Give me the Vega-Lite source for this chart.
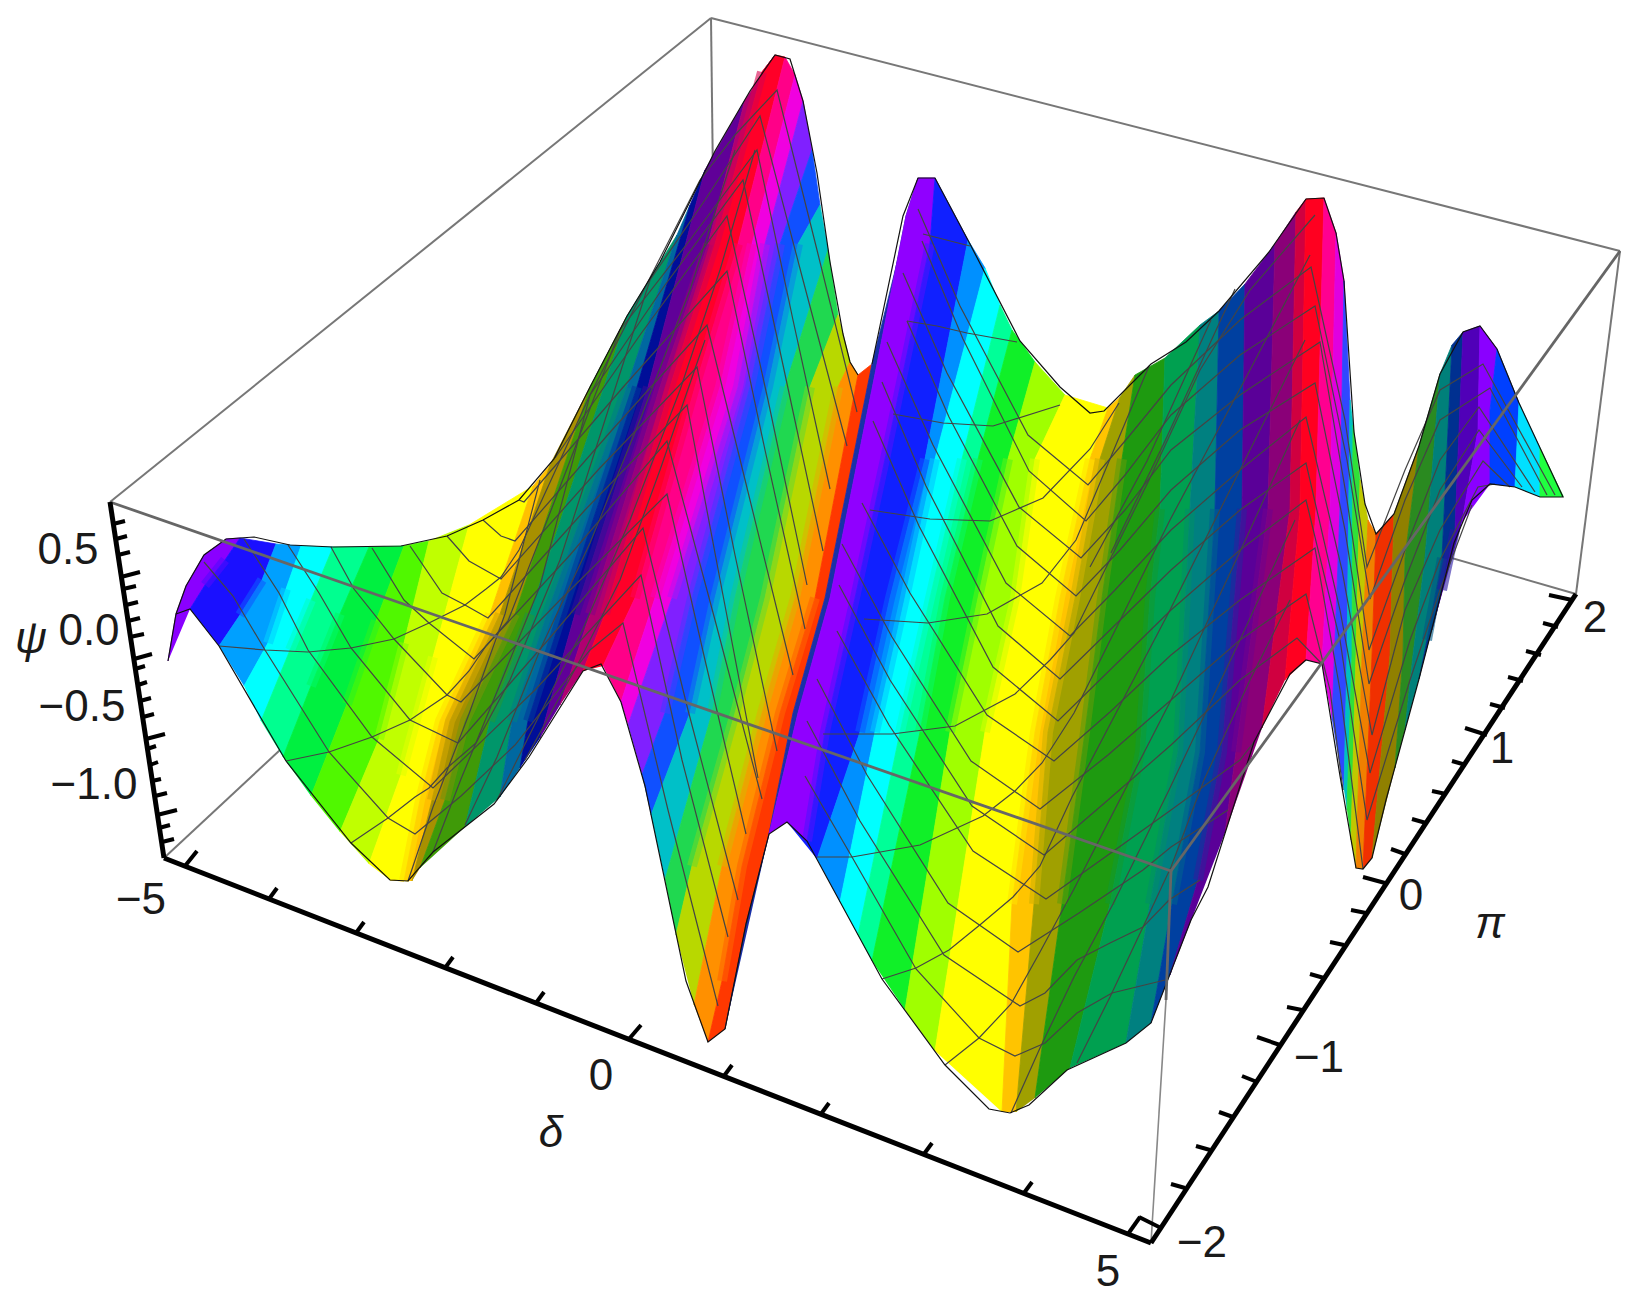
{"$schema":"https://vega.github.io/schema/vega-lite/v6.json","width":1639,"height":1302,"padding":0,"autosize":{"type":"none"},"background":"white","config":{"view":{"stroke":null},"axis":{"domain":false}},
"datasets":{
"bands":[
{"l":0,"x":168,"y":661},{"l":0,"x":176,"y":614},{"l":0,"x":186,"y":586},{"l":0,"x":204,"y":555},{"l":0,"x":226,"y":539},
{"l":1,"x":190,"y":609},{"l":1,"x":205,"y":585},{"l":1,"x":225,"y":560},{"l":1,"x":240,"y":538},
{"l":2,"x":219,"y":646},{"l":2,"x":240,"y":615},{"l":2,"x":262,"y":580},{"l":2,"x":276,"y":544},
{"l":3,"x":244,"y":686},{"l":3,"x":268,"y":643},{"l":3,"x":286,"y":589},{"l":3,"x":301,"y":546},
{"l":4,"x":261,"y":721},{"l":4,"x":290,"y":650},{"l":4,"x":311,"y":600},{"l":4,"x":333,"y":547},
{"l":5,"x":283,"y":757},{"l":5,"x":311,"y":686},{"l":5,"x":340,"y":614},{"l":5,"x":369,"y":547},
{"l":6,"x":311,"y":796},{"l":6,"x":347,"y":704},{"l":6,"x":376,"y":621},{"l":6,"x":404,"y":546},
{"l":7,"x":340,"y":832},{"l":7,"x":379,"y":739},{"l":7,"x":404,"y":643},{"l":7,"x":429,"y":541},
{"l":8,"x":369,"y":864},{"l":8,"x":401,"y":775},{"l":8,"x":433,"y":657},{"l":8,"x":469,"y":525},
{"l":9,"x":390,"y":880},{"l":9,"x":404,"y":881},{"l":9,"x":420,"y":800},{"l":9,"x":440,"y":721},{"l":9,"x":490,"y":614},{"l":9,"x":533,"y":486},
{"l":10,"x":412,"y":881},{"l":10,"x":432,"y":800},{"l":10,"x":450,"y":721},{"l":10,"x":500,"y":614},{"l":10,"x":550,"y":465},
{"l":11,"x":420,"y":868},{"l":11,"x":445,"y":800},{"l":11,"x":465,"y":721},{"l":11,"x":515,"y":614},{"l":11,"x":590,"y":387},
{"l":12,"x":465,"y":827},{"l":12,"x":490,"y":721},{"l":12,"x":530,"y":614},{"l":12,"x":627,"y":316},
{"l":13,"x":500,"y":797},{"l":13,"x":512,"y":721},{"l":13,"x":547,"y":614},{"l":13,"x":627,"y":387},{"l":13,"x":677,"y":235},
{"l":14,"x":520,"y":768},{"l":14,"x":528,"y":721},{"l":14,"x":562,"y":614},{"l":14,"x":637,"y":387},{"l":14,"x":690,"y":205},
{"l":15,"x":540,"y":738},{"l":15,"x":575,"y":614},{"l":15,"x":648,"y":387},{"l":15,"x":705,"y":170},
{"l":16,"x":560,"y":705},{"l":16,"x":590,"y":614},{"l":16,"x":660,"y":387},{"l":16,"x":708,"y":244},{"l":16,"x":745,"y":100},
{"l":17,"x":583,"y":671},{"l":17,"x":605,"y":614},{"l":17,"x":670,"y":387},{"l":17,"x":715,"y":244},{"l":17,"x":762,"y":72},{"l":17,"x":775,"y":55},
{"l":18,"x":603,"y":666},{"l":18,"x":635,"y":598},{"l":18,"x":695,"y":387},{"l":18,"x":738,"y":244},{"l":18,"x":785,"y":57},
{"l":19,"x":621,"y":702},{"l":19,"x":655,"y":598},{"l":19,"x":720,"y":387},{"l":19,"x":752,"y":244},{"l":19,"x":795,"y":75},
{"l":20,"x":628,"y":725},{"l":20,"x":672,"y":598},{"l":20,"x":738,"y":387},{"l":20,"x":765,"y":244},{"l":20,"x":803,"y":101},
{"l":21,"x":642,"y":775},{"l":21,"x":665,"y":713},{"l":21,"x":692,"y":598},{"l":21,"x":750,"y":387},{"l":21,"x":780,"y":244},{"l":21,"x":812,"y":150},
{"l":22,"x":651,"y":815},{"l":22,"x":690,"y":713},{"l":22,"x":715,"y":598},{"l":22,"x":768,"y":387},{"l":22,"x":798,"y":244},{"l":22,"x":820,"y":205},
{"l":23,"x":665,"y":880},{"l":23,"x":712,"y":713},{"l":23,"x":735,"y":598},{"l":23,"x":785,"y":387},{"l":23,"x":828,"y":250},
{"l":24,"x":676,"y":935},{"l":24,"x":692,"y":866},{"l":24,"x":735,"y":713},{"l":24,"x":765,"y":598},{"l":24,"x":810,"y":387},{"l":24,"x":838,"y":315},
{"l":25,"x":694,"y":1005},{"l":25,"x":722,"y":866},{"l":25,"x":762,"y":713},{"l":25,"x":795,"y":598},{"l":25,"x":838,"y":387},{"l":25,"x":850,"y":362},
{"l":26,"x":708,"y":1042},{"l":26,"x":722,"y":981},{"l":26,"x":742,"y":866},{"l":26,"x":780,"y":713},{"l":26,"x":815,"y":598},{"l":26,"x":858,"y":375},
{"l":27,"x":725,"y":1029},{"l":27,"x":746,"y":924},{"l":27,"x":769,"y":834},{"l":27,"x":793,"y":713},{"l":27,"x":825,"y":598},{"l":27,"x":872,"y":364},
{"l":28,"x":769,"y":834},{"l":28,"x":798,"y":713},{"l":28,"x":830,"y":598},{"l":28,"x":877,"y":364},{"l":28,"x":906,"y":216},{"l":28,"x":918,"y":178},
{"l":29,"x":787,"y":822},{"l":29,"x":807,"y":841},{"l":29,"x":825,"y":732},{"l":29,"x":855,"y":598},{"l":29,"x":885,"y":459},{"l":29,"x":930,"y":244},{"l":29,"x":935,"y":178},
{"l":30,"x":817,"y":859},{"l":30,"x":860,"y":732},{"l":30,"x":890,"y":598},{"l":30,"x":925,"y":459},{"l":30,"x":968,"y":240},
{"l":31,"x":840,"y":902},{"l":31,"x":875,"y":732},{"l":31,"x":905,"y":598},{"l":31,"x":935,"y":459},{"l":31,"x":985,"y":268},
{"l":32,"x":858,"y":935},{"l":32,"x":900,"y":732},{"l":32,"x":930,"y":598},{"l":32,"x":962,"y":459},{"l":32,"x":1000,"y":305},
{"l":33,"x":872,"y":961},{"l":33,"x":920,"y":732},{"l":33,"x":945,"y":598},{"l":33,"x":978,"y":459},{"l":33,"x":1012,"y":330},
{"l":34,"x":905,"y":1010},{"l":34,"x":950,"y":732},{"l":34,"x":978,"y":598},{"l":34,"x":1008,"y":459},{"l":34,"x":1035,"y":362},
{"l":35,"x":935,"y":1051},{"l":35,"x":985,"y":732},{"l":35,"x":1015,"y":598},{"l":35,"x":1035,"y":459},{"l":35,"x":1065,"y":395},
{"l":36,"x":1002,"y":1112},{"l":36,"x":1012,"y":904},{"l":36,"x":1035,"y":732},{"l":36,"x":1060,"y":598},{"l":36,"x":1090,"y":459},{"l":36,"x":1108,"y":408},
{"l":37,"x":1016,"y":1112},{"l":37,"x":1034,"y":904},{"l":37,"x":1048,"y":732},{"l":37,"x":1075,"y":598},{"l":37,"x":1100,"y":459},{"l":37,"x":1120,"y":397},
{"l":38,"x":1035,"y":1098},{"l":38,"x":1062,"y":904},{"l":38,"x":1085,"y":732},{"l":38,"x":1102,"y":598},{"l":38,"x":1122,"y":459},{"l":38,"x":1135,"y":375},
{"l":39,"x":1070,"y":1068},{"l":39,"x":1110,"y":904},{"l":39,"x":1140,"y":752},{"l":39,"x":1150,"y":598},{"l":39,"x":1160,"y":509},{"l":39,"x":1165,"y":358},
{"l":40,"x":1126,"y":1043},{"l":40,"x":1150,"y":904},{"l":40,"x":1178,"y":752},{"l":40,"x":1190,"y":509},{"l":40,"x":1200,"y":325},
{"l":41,"x":1151,"y":1023},{"l":41,"x":1172,"y":904},{"l":41,"x":1200,"y":752},{"l":41,"x":1215,"y":509},{"l":41,"x":1219,"y":311},
{"l":42,"x":1170,"y":975},{"l":42,"x":1198,"y":880},{"l":42,"x":1222,"y":752},{"l":42,"x":1242,"y":509},{"l":42,"x":1245,"y":284},
{"l":43,"x":1225,"y":833},{"l":43,"x":1236,"y":752},{"l":43,"x":1268,"y":509},{"l":43,"x":1275,"y":244},
{"l":44,"x":1262,"y":728},{"l":44,"x":1290,"y":509},{"l":44,"x":1296,"y":212},
{"l":45,"x":1285,"y":680},{"l":45,"x":1300,"y":509},{"l":45,"x":1306,"y":199},
{"l":46,"x":1306,"y":660},{"l":46,"x":1316,"y":509},{"l":46,"x":1324,"y":198},
{"l":47,"x":1322,"y":664},{"l":47,"x":1330,"y":509},{"l":47,"x":1336,"y":233},
{"l":48,"x":1332,"y":720},{"l":48,"x":1340,"y":509},{"l":48,"x":1344,"y":281},
{"l":49,"x":1344,"y":790},{"l":49,"x":1347,"y":655},{"l":49,"x":1350,"y":400},
{"l":50,"x":1347,"y":810},{"l":50,"x":1352,"y":655},{"l":50,"x":1353,"y":425},
{"l":51,"x":1351,"y":840},{"l":51,"x":1356,"y":655},{"l":51,"x":1360,"y":480},
{"l":52,"x":1356,"y":868},{"l":52,"x":1362,"y":655},{"l":52,"x":1368,"y":520},
{"l":53,"x":1363,"y":869},{"l":53,"x":1372,"y":655},{"l":53,"x":1376,"y":534},
{"l":54,"x":1372,"y":858},{"l":54,"x":1390,"y":655},{"l":54,"x":1394,"y":514},
{"l":55,"x":1395,"y":768},{"l":55,"x":1403,"y":655},{"l":55,"x":1405,"y":558},{"l":55,"x":1419,"y":446},
{"l":56,"x":1405,"y":730},{"l":56,"x":1413,"y":655},{"l":56,"x":1425,"y":558},{"l":56,"x":1440,"y":374},
{"l":57,"x":1419,"y":679},{"l":57,"x":1427,"y":640},{"l":57,"x":1442,"y":558},{"l":57,"x":1452,"y":345},
{"l":58,"x":1432,"y":630},{"l":58,"x":1442,"y":590},{"l":58,"x":1455,"y":530},{"l":58,"x":1463,"y":332},
{"l":59,"x":1462,"y":522},{"l":59,"x":1478,"y":430},{"l":59,"x":1480,"y":326},
{"l":60,"x":1490,"y":484},{"l":60,"x":1490,"y":410},{"l":60,"x":1497,"y":349},
{"l":61,"x":1515,"y":487},{"l":61,"x":1519,"y":403},
{"l":62,"x":1540,"y":497},{"l":62,"x":1540,"y":448},
{"l":63,"x":1563,"y":497},{"l":63,"x":1563,"y":496}],
"mesh":[
{"m":1,"x":204,"y":562},{"m":1,"x":233,"y":596},{"m":1,"x":265,"y":650},{"m":1,"x":329,"y":752},{"m":1,"x":388,"y":818},{"m":1,"x":415,"y":834},{"m":1,"x":461,"y":796},{"m":1,"x":515,"y":745},{"m":1,"x":590,"y":650},{"m":1,"x":623,"y":623},{"m":1,"x":668,"y":810},{"m":1,"x":718,"y":1006},
{"m":2,"x":244,"y":539},{"m":2,"x":279,"y":593},{"m":2,"x":308,"y":650},{"m":2,"x":372,"y":737},{"m":2,"x":433,"y":788},{"m":2,"x":535,"y":690},{"m":2,"x":641,"y":575},{"m":2,"x":682,"y":760},{"m":2,"x":728,"y":937},
{"m":3,"x":288,"y":545},{"m":3,"x":319,"y":593},{"m":3,"x":351,"y":648},{"m":3,"x":410,"y":720},{"m":3,"x":458,"y":743},{"m":3,"x":548,"y":640},{"m":3,"x":643,"y":528},{"m":3,"x":688,"y":710},{"m":3,"x":738,"y":900},
{"m":4,"x":331,"y":547},{"m":4,"x":354,"y":589},{"m":4,"x":394,"y":639},{"m":4,"x":447,"y":695},{"m":4,"x":461,"y":702},{"m":4,"x":560,"y":600},{"m":4,"x":667,"y":494},{"m":4,"x":705,"y":660},{"m":4,"x":746,"y":834},
{"m":5,"x":372,"y":548},{"m":5,"x":404,"y":600},{"m":5,"x":429,"y":623},{"m":5,"x":474,"y":659},{"m":5,"x":570,"y":555},{"m":5,"x":667,"y":441},{"m":5,"x":715,"y":620},{"m":5,"x":762,"y":799},
{"m":6,"x":410,"y":546},{"m":6,"x":442,"y":593},{"m":6,"x":465,"y":605},{"m":6,"x":488,"y":618},{"m":6,"x":585,"y":510},{"m":6,"x":687,"y":405},{"m":6,"x":722,"y":590},{"m":6,"x":758,"y":778},
{"m":7,"x":447,"y":536},{"m":7,"x":469,"y":561},{"m":7,"x":501,"y":579},{"m":7,"x":598,"y":470},{"m":7,"x":697,"y":367},{"m":7,"x":735,"y":555},{"m":7,"x":777,"y":751},
{"m":8,"x":483,"y":520},{"m":8,"x":501,"y":536},{"m":8,"x":515,"y":541},{"m":8,"x":612,"y":430},{"m":8,"x":707,"y":325},{"m":8,"x":750,"y":500},{"m":8,"x":793,"y":675},
{"m":9,"x":519,"y":500},{"m":9,"x":524,"y":502},{"m":9,"x":625,"y":385},{"m":9,"x":727,"y":271},{"m":9,"x":765,"y":450},{"m":9,"x":805,"y":629},
{"m":10,"x":555,"y":458},{"m":10,"x":640,"y":335},{"m":10,"x":727,"y":216},{"m":10,"x":768,"y":400},{"m":10,"x":807,"y":585},
{"m":11,"x":590,"y":395},{"m":11,"x":665,"y":285},{"m":11,"x":743,"y":180},{"m":11,"x":783,"y":365},{"m":11,"x":823,"y":551},
{"m":12,"x":620,"y":330},{"m":12,"x":690,"y":240},{"m":12,"x":757,"y":150},{"m":12,"x":793,"y":320},{"m":12,"x":830,"y":489},
{"m":13,"x":650,"y":280},{"m":13,"x":705,"y":200},{"m":13,"x":760,"y":116},{"m":13,"x":803,"y":280},{"m":13,"x":847,"y":446},
{"m":14,"x":700,"y":180},{"m":14,"x":735,"y":135},{"m":14,"x":777,"y":90},{"m":14,"x":817,"y":250},{"m":14,"x":857,"y":412},
{"m":21,"x":805,"y":776},{"m":21,"x":852,"y":857},{"m":21,"x":916,"y":969},{"m":21,"x":979,"y":1038},{"m":21,"x":1015,"y":1056},{"m":21,"x":1045,"y":1043},{"m":21,"x":1077,"y":1013},{"m":21,"x":1112,"y":993},{"m":21,"x":1165,"y":980},
{"m":22,"x":807,"y":721},{"m":22,"x":860,"y":821},{"m":22,"x":944,"y":955},{"m":22,"x":1020,"y":1006},{"m":22,"x":1045,"y":993},{"m":22,"x":1077,"y":960},{"m":22,"x":1110,"y":943},{"m":22,"x":1143,"y":927},{"m":22,"x":1169,"y":900},{"m":22,"x":1200,"y":880},
{"m":23,"x":817,"y":679},{"m":23,"x":867,"y":775},{"m":23,"x":948,"y":903},{"m":23,"x":1018,"y":952},{"m":23,"x":1079,"y":913},{"m":23,"x":1143,"y":870},{"m":23,"x":1171,"y":847},{"m":23,"x":1228,"y":810},
{"m":24,"x":837,"y":631},{"m":24,"x":889,"y":725},{"m":24,"x":973,"y":851},{"m":24,"x":1046,"y":899},{"m":24,"x":1108,"y":855},{"m":24,"x":1171,"y":810},{"m":24,"x":1240,"y":760},{"m":24,"x":1254,"y":742},
{"m":25,"x":839,"y":585},{"m":25,"x":890,"y":680},{"m":25,"x":972,"y":806},{"m":25,"x":1044,"y":855},{"m":25,"x":1108,"y":800},{"m":25,"x":1171,"y":745},{"m":25,"x":1240,"y":680},{"m":25,"x":1297,"y":638},{"m":25,"x":1322,"y":664},
{"m":26,"x":842,"y":544},{"m":26,"x":892,"y":637},{"m":26,"x":971,"y":761},{"m":26,"x":1040,"y":809},{"m":26,"x":1108,"y":755},{"m":26,"x":1171,"y":700},{"m":26,"x":1240,"y":640},{"m":26,"x":1306,"y":594},{"m":26,"x":1330,"y":690},{"m":26,"x":1343,"y":790},
{"m":27,"x":862,"y":503},{"m":27,"x":910,"y":593},{"m":27,"x":987,"y":715},{"m":27,"x":1054,"y":761},{"m":27,"x":1110,"y":712},{"m":27,"x":1171,"y":655},{"m":27,"x":1240,"y":600},{"m":27,"x":1315,"y":548},{"m":27,"x":1340,"y":690},{"m":27,"x":1363,"y":869},
{"m":28,"x":873,"y":421},{"m":28,"x":919,"y":526},{"m":28,"x":993,"y":667},{"m":28,"x":1058,"y":721},{"m":28,"x":1110,"y":670},{"m":28,"x":1171,"y":610},{"m":28,"x":1240,"y":550},{"m":28,"x":1306,"y":500},{"m":28,"x":1340,"y":640},{"m":28,"x":1367,"y":820},{"m":28,"x":1410,"y":680},{"m":28,"x":1440,"y":590},{"m":28,"x":1472,"y":505},
{"m":29,"x":882,"y":382},{"m":29,"x":926,"y":486},{"m":29,"x":998,"y":626},{"m":29,"x":1060,"y":679},{"m":29,"x":1110,"y":630},{"m":29,"x":1171,"y":570},{"m":29,"x":1240,"y":510},{"m":29,"x":1306,"y":463},{"m":29,"x":1340,"y":610},{"m":29,"x":1370,"y":773},{"m":29,"x":1410,"y":640},{"m":29,"x":1440,"y":560},{"m":29,"x":1478,"y":487},{"m":29,"x":1495,"y":484},
{"m":30,"x":887,"y":342},{"m":30,"x":933,"y":445},{"m":30,"x":1006,"y":583},{"m":30,"x":1070,"y":636},{"m":30,"x":1115,"y":590},{"m":30,"x":1171,"y":530},{"m":30,"x":1240,"y":470},{"m":30,"x":1306,"y":417},{"m":30,"x":1342,"y":570},{"m":30,"x":1372,"y":735},{"m":30,"x":1405,"y":610},{"m":30,"x":1440,"y":530},{"m":30,"x":1483,"y":461},{"m":30,"x":1510,"y":487},
{"m":31,"x":907,"y":321},{"m":31,"x":949,"y":417},{"m":31,"x":1017,"y":546},{"m":31,"x":1076,"y":596},{"m":31,"x":1120,"y":550},{"m":31,"x":1171,"y":490},{"m":31,"x":1240,"y":430},{"m":31,"x":1315,"y":383},{"m":31,"x":1345,"y":530},{"m":31,"x":1369,"y":684},{"m":31,"x":1405,"y":580},{"m":31,"x":1440,"y":490},{"m":31,"x":1479,"y":430},{"m":31,"x":1522,"y":487},
{"m":32,"x":903,"y":273},{"m":32,"x":947,"y":373},{"m":32,"x":1019,"y":507},{"m":32,"x":1081,"y":558},{"m":32,"x":1125,"y":510},{"m":32,"x":1171,"y":450},{"m":32,"x":1240,"y":395},{"m":32,"x":1320,"y":342},{"m":32,"x":1347,"y":500},{"m":32,"x":1369,"y":650},{"m":32,"x":1405,"y":550},{"m":32,"x":1440,"y":460},{"m":32,"x":1479,"y":407},{"m":32,"x":1535,"y":492},
{"m":33,"x":922,"y":241},{"m":33,"x":963,"y":339},{"m":33,"x":1029,"y":471},{"m":33,"x":1086,"y":521},{"m":33,"x":1125,"y":475},{"m":33,"x":1171,"y":415},{"m":33,"x":1240,"y":355},{"m":33,"x":1315,"y":306},{"m":33,"x":1347,"y":460},{"m":33,"x":1370,"y":599},{"m":33,"x":1405,"y":500},{"m":33,"x":1440,"y":420},{"m":33,"x":1490,"y":388},{"m":33,"x":1547,"y":495},
{"m":34,"x":918,"y":209},{"m":34,"x":960,"y":306},{"m":34,"x":1028,"y":435},{"m":34,"x":1088,"y":485},{"m":34,"x":1130,"y":435},{"m":34,"x":1171,"y":385},{"m":34,"x":1240,"y":320},{"m":34,"x":1311,"y":267},{"m":34,"x":1345,"y":420},{"m":34,"x":1367,"y":567},{"m":34,"x":1405,"y":470},{"m":34,"x":1440,"y":390},{"m":34,"x":1483,"y":364},{"m":34,"x":1555,"y":495},
{"m":41,"x":219,"y":646},{"m":41,"x":265,"y":650},{"m":41,"x":308,"y":652},{"m":41,"x":351,"y":648},{"m":41,"x":394,"y":639},{"m":41,"x":429,"y":623},{"m":41,"x":465,"y":605},{"m":41,"x":486,"y":589},{"m":41,"x":501,"y":577},{"m":41,"x":519,"y":550},{"m":41,"x":590,"y":395},
{"m":42,"x":286,"y":761},{"m":42,"x":329,"y":752},{"m":42,"x":372,"y":737},{"m":42,"x":410,"y":720},{"m":42,"x":447,"y":695},{"m":42,"x":469,"y":671},{"m":42,"x":486,"y":646},{"m":42,"x":508,"y":621},{"m":42,"x":555,"y":500},{"m":42,"x":620,"y":330},
{"m":43,"x":351,"y":843},{"m":43,"x":388,"y":818},{"m":43,"x":415,"y":797},{"m":43,"x":429,"y":788},{"m":43,"x":447,"y":768},{"m":43,"x":476,"y":743},{"m":43,"x":510,"y":680},{"m":43,"x":560,"y":560},{"m":43,"x":650,"y":280},
{"m":44,"x":408,"y":881},{"m":44,"x":433,"y":807},{"m":44,"x":469,"y":714},{"m":44,"x":505,"y":614},{"m":44,"x":540,"y":480},
{"m":45,"x":433,"y":852},{"m":45,"x":461,"y":779},{"m":45,"x":501,"y":682},{"m":45,"x":540,"y":586},{"m":45,"x":590,"y":395},{"m":45,"x":700,"y":180},
{"m":46,"x":465,"y":825},{"m":46,"x":497,"y":757},{"m":46,"x":540,"y":650},{"m":46,"x":590,"y":543},{"m":46,"x":640,"y":420},{"m":46,"x":690,"y":290},{"m":46,"x":735,"y":150},
{"m":47,"x":497,"y":800},{"m":47,"x":540,"y":714},{"m":47,"x":583,"y":629},{"m":47,"x":630,"y":520},{"m":47,"x":680,"y":390},{"m":47,"x":720,"y":270},{"m":47,"x":755,"y":150},
{"m":48,"x":525,"y":760},{"m":48,"x":580,"y":660},{"m":48,"x":620,"y":580},{"m":48,"x":660,"y":470},{"m":48,"x":705,"y":340},
{"m":51,"x":817,"y":857},{"m":51,"x":852,"y":857},{"m":51,"x":920,"y":845},{"m":51,"x":983,"y":816},{"m":51,"x":1015,"y":791},{"m":51,"x":1042,"y":763},{"m":51,"x":1074,"y":713},{"m":51,"x":1170,"y":520},{"m":51,"x":1250,"y":370},{"m":51,"x":1310,"y":255},
{"m":52,"x":882,"y":979},{"m":52,"x":916,"y":968},{"m":52,"x":949,"y":950},{"m":52,"x":981,"y":924},{"m":52,"x":1013,"y":897},{"m":52,"x":1040,"y":866},{"m":52,"x":1072,"y":797},{"m":52,"x":1170,"y":610},{"m":52,"x":1250,"y":450},{"m":52,"x":1305,"y":340},
{"m":53,"x":945,"y":1065},{"m":53,"x":979,"y":1038},{"m":53,"x":1011,"y":1004},{"m":53,"x":1040,"y":952},{"m":53,"x":1074,"y":889},{"m":53,"x":1171,"y":700},{"m":53,"x":1250,"y":530},{"m":53,"x":1300,"y":420},
{"m":54,"x":1011,"y":1113},{"m":54,"x":1040,"y":1048},{"m":54,"x":1074,"y":977},{"m":54,"x":1113,"y":904},{"m":54,"x":1169,"y":790},{"m":54,"x":1240,"y":640},{"m":54,"x":1295,"y":520},
{"m":55,"x":1077,"y":1063},{"m":55,"x":1110,"y":997},{"m":55,"x":1143,"y":927},{"m":55,"x":1171,"y":867},{"m":55,"x":1204,"y":780},{"m":55,"x":1250,"y":680},{"m":55,"x":1290,"y":600},
{"m":56,"x":823,"y":734},{"m":56,"x":892,"y":734},{"m":56,"x":955,"y":726},{"m":56,"x":1015,"y":694},{"m":56,"x":1050,"y":660},{"m":56,"x":1074,"y":633},{"m":56,"x":1149,"y":480},{"m":56,"x":1200,"y":370},{"m":56,"x":1250,"y":290},{"m":56,"x":1315,"y":215},
{"m":57,"x":864,"y":619},{"m":57,"x":928,"y":623},{"m":57,"x":987,"y":614},{"m":57,"x":1042,"y":583},{"m":57,"x":1076,"y":540},{"m":57,"x":1149,"y":366},
{"m":58,"x":870,"y":510},{"m":58,"x":930,"y":519},{"m":58,"x":990,"y":521},{"m":58,"x":1043,"y":498},{"m":58,"x":1090,"y":449},{"m":58,"x":1119,"y":403},
{"m":59,"x":893,"y":414},{"m":59,"x":943,"y":423},{"m":59,"x":993,"y":426},{"m":59,"x":1060,"y":405},
{"m":60,"x":907,"y":321},{"m":60,"x":937,"y":326},{"m":60,"x":967,"y":333},{"m":60,"x":1017,"y":342},
{"m":61,"x":923,"y":234},{"m":61,"x":970,"y":246},
{"m":62,"x":1090,"y":567},{"m":62,"x":1147,"y":461},{"m":62,"x":1211,"y":320},
{"m":63,"x":1111,"y":553},{"m":63,"x":1165,"y":441},{"m":63,"x":1235,"y":289}],
"edge":[
{"m":1,"x":168,"y":661},{"m":1,"x":176,"y":614},{"m":1,"x":186,"y":586},{"m":1,"x":204,"y":555},{"m":1,"x":226,"y":539},{"m":1,"x":254,"y":537},{"m":1,"x":290,"y":545},{"m":1,"x":333,"y":547},{"m":1,"x":401,"y":546},{"m":1,"x":447,"y":536},{"m":1,"x":483,"y":520},{"m":1,"x":519,"y":500},{"m":1,"x":554,"y":459},{"m":1,"x":590,"y":387},{"m":1,"x":627,"y":316},{"m":1,"x":660,"y":262},{"m":1,"x":715,"y":151},{"m":1,"x":750,"y":91},{"m":1,"x":775,"y":55},{"m":1,"x":790,"y":59},{"m":1,"x":803,"y":101},{"m":1,"x":817,"y":173},{"m":1,"x":830,"y":262},{"m":1,"x":843,"y":334},{"m":1,"x":850,"y":362},{"m":1,"x":858,"y":375},
{"m":2,"x":872,"y":364},{"m":2,"x":903,"y":216},{"m":2,"x":918,"y":178},{"m":2,"x":935,"y":178},{"m":2,"x":970,"y":244},{"m":2,"x":1020,"y":341},{"m":2,"x":1060,"y":387},{"m":2,"x":1090,"y":413},{"m":2,"x":1104,"y":411},{"m":2,"x":1151,"y":364},{"m":2,"x":1186,"y":342},{"m":2,"x":1219,"y":311},{"m":2,"x":1269,"y":252},{"m":2,"x":1306,"y":199},{"m":2,"x":1324,"y":198},{"m":2,"x":1336,"y":233},{"m":2,"x":1344,"y":281},{"m":2,"x":1354,"y":432},{"m":2,"x":1365,"y":504},{"m":2,"x":1376,"y":534},{"m":2,"x":1394,"y":514},{"m":2,"x":1419,"y":446},{"m":2,"x":1440,"y":374},{"m":2,"x":1463,"y":332},{"m":2,"x":1480,"y":326},{"m":2,"x":1497,"y":349},{"m":2,"x":1519,"y":403},{"m":2,"x":1563,"y":497},{"m":2,"x":1540,"y":497},{"m":2,"x":1515,"y":487},{"m":2,"x":1490,"y":484},{"m":2,"x":1472,"y":500},{"m":2,"x":1454,"y":543},{"m":2,"x":1419,"y":679},{"m":2,"x":1386,"y":800},{"m":2,"x":1372,"y":858},{"m":2,"x":1363,"y":869},{"m":2,"x":1356,"y":868},{"m":2,"x":1340,"y":776},{"m":2,"x":1322,"y":664},{"m":2,"x":1306,"y":660},{"m":2,"x":1290,"y":674},{"m":2,"x":1254,"y":742},{"m":2,"x":1208,"y":887},{"m":2,"x":1191,"y":920},{"m":2,"x":1151,"y":1023},{"m":2,"x":1126,"y":1043},{"m":2,"x":1067,"y":1070},{"m":2,"x":1029,"y":1105},{"m":2,"x":1010,"y":1113},{"m":2,"x":989,"y":1109},{"m":2,"x":945,"y":1065},{"m":2,"x":882,"y":979},{"m":2,"x":807,"y":841},{"m":2,"x":787,"y":822},{"m":2,"x":769,"y":834},{"m":2,"x":746,"y":924},{"m":2,"x":725,"y":1029},{"m":2,"x":708,"y":1042},{"m":2,"x":686,"y":981},{"m":2,"x":645,"y":786},{"m":2,"x":621,"y":702},{"m":2,"x":601,"y":664},{"m":2,"x":583,"y":671},{"m":2,"x":529,"y":757},{"m":2,"x":494,"y":804},{"m":2,"x":433,"y":852},{"m":2,"x":408,"y":881},{"m":2,"x":390,"y":880},{"m":2,"x":351,"y":843},{"m":2,"x":286,"y":761},{"m":2,"x":219,"y":646},{"m":2,"x":190,"y":609},{"m":2,"x":176,"y":614}],
"ticks":[
{"x":185,"y":866,"x2":197,"y2":851},{"x":269,"y":899,"x2":277,"y2":888},{"x":356,"y":933,"x2":364,"y2":922},{"x":445,"y":968,"x2":453,"y2":957},{"x":536,"y":1003,"x2":544,"y2":992},{"x":629,"y":1039,"x2":641,"y2":1025},{"x":724,"y":1076,"x2":732,"y2":1065},{"x":821,"y":1114,"x2":829,"y2":1103},{"x":924,"y":1154,"x2":932,"y2":1143},{"x":1024,"y":1193,"x2":1032,"y2":1182},{"x":1128,"y":1234,"x2":1140,"y2":1217},
{"x":1161,"y":1228,"x2":1139,"y2":1217},{"x":1185,"y":1188,"x2":1171,"y2":1184},{"x":1210,"y":1150,"x2":1196,"y2":1146},{"x":1233,"y":1117,"x2":1219,"y2":1112},{"x":1257,"y":1082,"x2":1242,"y2":1076},{"x":1280,"y":1045,"x2":1257,"y2":1037},{"x":1302,"y":1010,"x2":1287,"y2":1007},{"x":1324,"y":978,"x2":1310,"y2":974},{"x":1344,"y":945,"x2":1330,"y2":942},{"x":1366,"y":913,"x2":1351,"y2":910},{"x":1385,"y":883,"x2":1363,"y2":877},{"x":1405,"y":854,"x2":1391,"y2":849},{"x":1426,"y":823,"x2":1412,"y2":819},{"x":1446,"y":794,"x2":1432,"y2":791},{"x":1466,"y":765,"x2":1452,"y2":761},{"x":1487,"y":735,"x2":1465,"y2":728},{"x":1505,"y":708,"x2":1490,"y2":704},{"x":1523,"y":681,"x2":1508,"y2":677},{"x":1541,"y":655,"x2":1526,"y2":651},{"x":1558,"y":627,"x2":1543,"y2":623},{"x":1572,"y":600,"x2":1549,"y2":595},
{"x":113,"y":524,"x2":125,"y2":521},{"x":116,"y":539,"x2":127,"y2":536},{"x":118,"y":555,"x2":130,"y2":552},{"x":121,"y":577,"x2":140,"y2":572},{"x":123,"y":589,"x2":136,"y2":586},{"x":126,"y":605,"x2":138,"y2":602},{"x":128,"y":621,"x2":140,"y2":618},{"x":130,"y":637,"x2":144,"y2":634},{"x":134,"y":659,"x2":152,"y2":654},{"x":135,"y":669,"x2":145,"y2":666},{"x":138,"y":685,"x2":147,"y2":682},{"x":140,"y":701,"x2":151,"y2":698},{"x":143,"y":717,"x2":154,"y2":714},{"x":146,"y":739,"x2":165,"y2":734},{"x":147,"y":749,"x2":156,"y2":746},{"x":150,"y":765,"x2":158,"y2":762},{"x":152,"y":781,"x2":161,"y2":779},{"x":155,"y":796,"x2":167,"y2":793},{"x":157,"y":815,"x2":177,"y2":810},{"x":159,"y":828,"x2":170,"y2":825},{"x":162,"y":842,"x2":174,"y2":839}],
"axes":[{"x":110,"y":502,"x2":164,"y2":858},{"x":164,"y":858,"x2":1151,"y2":1243},{"x":1151,"y":1243,"x2":1576,"y2":594}],
"backBox":[{"x":110,"y":502,"x2":711,"y2":18},{"x":711,"y":18,"x2":1620,"y2":251},{"x":711,"y":18,"x2":715,"y2":345},{"x":164,"y":858,"x2":715,"y2":345},{"x":715,"y":345,"x2":1576,"y2":594},{"x":1576,"y":594,"x2":1620,"y2":251}],
"frontBox":[{"x":110,"y":502,"x2":1171,"y2":871},{"x":1171,"y":871,"x2":1620,"y2":251},{"x":1171,"y":871,"x2":1166,"y2":1000}],
"frontThin":[{"x":1166,"y":1000,"x2":1151,"y2":1243}],
"labels":[{"t":"0.5","x":68,"y":551},{"t":"0.0","x":89,"y":632},{"t":"−0.5","x":82,"y":708},{"t":"−1.0","x":94,"y":786},{"t":"−5","x":141,"y":901},{"t":"0","x":601,"y":1077},{"t":"5","x":1108,"y":1273},{"t":"−2","x":1202,"y":1244},{"t":"−1","x":1319,"y":1059},{"t":"0","x":1411,"y":897},{"t":"1","x":1502,"y":750},{"t":"2","x":1595,"y":619}],
"titles":[{"t":"ψ","x":31,"y":640},{"t":"δ","x":551,"y":1134},{"t":"π","x":1490,"y":925}]
},
"layer":[
{"data":{"name":"backBox"},"mark":{"type":"rule","color":"#777777","strokeWidth":2},"encoding":{"x":{"field":"x","type":"quantitative","scale":{"domain":[0,1639]},"axis":null},"y":{"field":"y","type":"quantitative","scale":{"domain":[1302,0]},"axis":null},"x2":{"field":"x2"},"y2":{"field":"y2"}}},
{"data":{"name":"bands"},"transform":[{"window":[{"op":"row_number","as":"n"}],"groupby":["l"]},{"calculate":"[datum.l,datum.l-1]","as":"pair"},{"flatten":["pair"],"as":["b"]},{"filter":"datum.b>=0&&datum.b<63"},{"calculate":"datum.b==datum.l?datum.n:1000-datum.n","as":"o"}],
"mark":{"type":"line","strokeWidth":0.8},
"encoding":{"x":{"field":"x","type":"quantitative","scale":{"domain":[0,1639]},"axis":null},"y":{"field":"y","type":"quantitative","scale":{"domain":[1302,0]},"axis":null},"order":{"field":"o","type":"quantitative"},
"fill":{"field":"b","type":"ordinal","legend":null,"scale":{"range":["#8a00ff","#1a10ff","#00a0ff","#00ffff","#00ff90","#00f040","#50f800","#c0ff00","#ffff00","#ffc000","#a89000","#3f9a08","#00966a","#0068a0","#000e98","#600098","#b00070","#ff0028","#ff0088","#f000e0","#8020ff","#1050ff","#00c0c8","#20d850","#b8d800","#ff9000","#ff3800","#1830a8","#9000ff","#1020ff","#0090ff","#00ffff","#00ff98","#10f028","#a0ff00","#ffff00","#ffc400","#a0a000","#1e9a10","#00a050","#008080","#0040a0","#5a0098","#8a0078","#d00040","#ff0020","#ff0090","#e000e0","#3048ff","#00c0c0","#30e038","#c0c800","#f08000","#f03000","#908000","#2a8a20","#00807a","#003090","#5000b8","#8a00ff","#0040ff","#00e0ff","#20ff40"]}},
"stroke":{"field":"b","type":"ordinal","legend":null,"scale":{"range":["#8a00ff","#1a10ff","#00a0ff","#00ffff","#00ff90","#00f040","#50f800","#c0ff00","#ffff00","#ffc000","#a89000","#3f9a08","#00966a","#0068a0","#000e98","#600098","#b00070","#ff0028","#ff0088","#f000e0","#8020ff","#1050ff","#00c0c8","#20d850","#b8d800","#ff9000","#ff3800","#1830a8","#9000ff","#1020ff","#0090ff","#00ffff","#00ff98","#10f028","#a0ff00","#ffff00","#ffc400","#a0a000","#1e9a10","#00a050","#008080","#0040a0","#5a0098","#8a0078","#d00040","#ff0020","#ff0090","#e000e0","#3048ff","#00c0c0","#30e038","#c0c800","#f08000","#f03000","#908000","#2a8a20","#00807a","#003090","#5000b8","#8a00ff","#0040ff","#00e0ff","#20ff40"]}}}},
{"data":{"name":"bands"},"transform":[{"window":[{"op":"row_number","as":"n"}],"groupby":["l"]},{"joinaggregate":[{"op":"count","as":"c"}],"groupby":["l"]},{"filter":"datum.l>0&&datum.l<63&&datum.l!=27&&datum.l!=28&&(datum.l<48||datum.l>56)&&datum.n>1&&datum.n<datum.c"}],
"mark":{"type":"line","strokeWidth":10,"opacity":0.6,"strokeCap":"butt"},
"encoding":{"x":{"field":"x","type":"quantitative","scale":{"domain":[0,1639]},"axis":null},"y":{"field":"y","type":"quantitative","scale":{"domain":[1302,0]},"axis":null},"order":{"field":"n","type":"quantitative"},
"stroke":{"field":"l","type":"ordinal","legend":null,"scale":{"domain":[1,2,3,4,5,6,7,8,9,10,11,12,13,14,15,16,17,18,19,20,21,22,23,24,25,26,29,30,31,32,33,34,35,36,37,38,39,40,41,42,43,44,45,46,47,57,58,59,60],"range":["#5208ff","#0d58ff","#00d0ff","#00ffc8","#00f868","#28f420","#88fc00","#e0ff00","#ffe000","#d4a800","#749408","#209838","#007f85","#003b9c","#300e98","#880084","#d8004c","#ff0058","#f800b4","#b810f0","#4838ff","#0888e4","#10cc8c","#6cd828","#dcb400","#ff6400","#5010ff","#0858ff","#00c8ff","#00ffcc","#08f860","#58f414","#d0ff00","#ffe200","#d0b200","#5f9d08","#0f9b30","#009068","#006090","#2d209c","#72008c","#ad005c","#e80030","#ff0058","#f000b8","#005885","#2818a4","#6d00dc","#4520ff"]}}}},
{"data":{"name":"mesh"},"transform":[{"window":[{"op":"row_number","as":"n"}],"groupby":["m"]}],"mark":{"type":"line","color":"#444444","strokeWidth":1.2},"encoding":{"x":{"field":"x","type":"quantitative","scale":{"domain":[0,1639]},"axis":null},"y":{"field":"y","type":"quantitative","scale":{"domain":[1302,0]},"axis":null},"detail":{"field":"m","type":"nominal"},"order":{"field":"n","type":"quantitative"}}},
{"data":{"name":"edge"},"transform":[{"window":[{"op":"row_number","as":"n"}],"groupby":["m"]}],"mark":{"type":"line","color":"#111111","strokeWidth":1.2},"encoding":{"x":{"field":"x","type":"quantitative","scale":{"domain":[0,1639]},"axis":null},"y":{"field":"y","type":"quantitative","scale":{"domain":[1302,0]},"axis":null},"detail":{"field":"m","type":"nominal"},"order":{"field":"n","type":"quantitative"}}},
{"data":{"name":"frontBox"},"mark":{"type":"rule","color":"#666666","strokeWidth":2.8},"encoding":{"x":{"field":"x","type":"quantitative","scale":{"domain":[0,1639]},"axis":null},"y":{"field":"y","type":"quantitative","scale":{"domain":[1302,0]},"axis":null},"x2":{"field":"x2"},"y2":{"field":"y2"}}},
{"data":{"name":"frontThin"},"mark":{"type":"rule","color":"#888888","strokeWidth":1.6},"encoding":{"x":{"field":"x","type":"quantitative","scale":{"domain":[0,1639]},"axis":null},"y":{"field":"y","type":"quantitative","scale":{"domain":[1302,0]},"axis":null},"x2":{"field":"x2"},"y2":{"field":"y2"}}},
{"data":{"name":"axes"},"mark":{"type":"rule","color":"#000000","strokeWidth":5},"encoding":{"x":{"field":"x","type":"quantitative","scale":{"domain":[0,1639]},"axis":null},"y":{"field":"y","type":"quantitative","scale":{"domain":[1302,0]},"axis":null},"x2":{"field":"x2"},"y2":{"field":"y2"}}},
{"data":{"name":"ticks"},"mark":{"type":"rule","color":"#000000","strokeWidth":4},"encoding":{"x":{"field":"x","type":"quantitative","scale":{"domain":[0,1639]},"axis":null},"y":{"field":"y","type":"quantitative","scale":{"domain":[1302,0]},"axis":null},"x2":{"field":"x2"},"y2":{"field":"y2"}}},
{"data":{"name":"labels"},"mark":{"type":"text","font":"Liberation Sans","fontSize":44,"color":"#1a1a1a","align":"center","baseline":"middle"},"encoding":{"x":{"field":"x","type":"quantitative","scale":{"domain":[0,1639]},"axis":null},"y":{"field":"y","type":"quantitative","scale":{"domain":[1302,0]},"axis":null},"text":{"field":"t"}}},
{"data":{"name":"titles"},"mark":{"type":"text","font":"Liberation Sans","fontSize":44,"fontStyle":"italic","color":"#1a1a1a","align":"center","baseline":"middle"},"encoding":{"x":{"field":"x","type":"quantitative","scale":{"domain":[0,1639]},"axis":null},"y":{"field":"y","type":"quantitative","scale":{"domain":[1302,0]},"axis":null},"text":{"field":"t"}}}
],
"resolve":{"scale":{"x":"shared","y":"shared","fill":"independent","stroke":"independent"}}}
